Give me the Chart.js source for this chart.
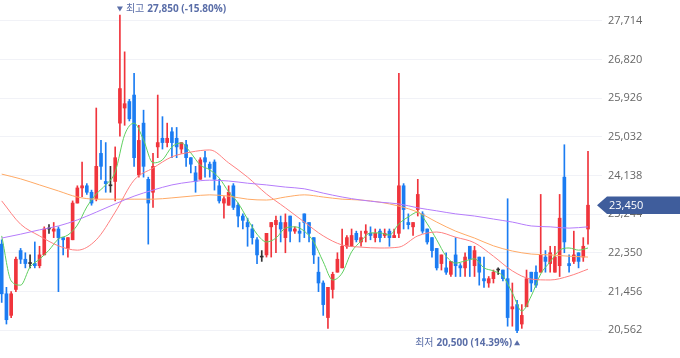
<!DOCTYPE html>
<html><head><meta charset="utf-8">
<script src="https://cdn.jsdelivr.net/npm/chart.js@4"></script>
<style>html,body{margin:0;padding:0;background:#fff}#wrap{width:680px;height:358px;position:relative}</style>
</head><body><div id="wrap"><canvas id="c" width="680" height="358"></canvas></div>
<script>
// ---- data ----
const opens  = [22550,21400,20900,21500,22400,22200,22100,22100,22050,22300,22900,22850,22900,22700,22450,22650,23500,23850,23900,23750,23600,24650,24000,23900,24000,25350,25700,25850,26000,24150,25350,24050,23750,24800,25000,24900,25150,25000,24750,24850,24550,24200,24050,24550,24400,24450,23900,23500,23450,23900,23450,23200,23050,22900,22650,22250,22300,22950,23000,23050,22700,23200,22850,22850,23250,23050,22700,21900,21650,20850,21500,21900,22000,22500,22500,22800,22600,22800,22800,22700,22850,22750,22850,22700,22800,23900,23050,22950,23350,23250,22900,22700,22450,22100,22000,21850,22300,22050,22000,22500,22050,22250,21750,21650,21750,21950,21950,21750,21050,21150,20700,21100,21900,21900,21900,22250,22100,21900,22050,24100,22100,22150,22350,22250,22900];
const highs  = [22650,21550,21450,22250,22450,22350,22300,22600,22500,22950,23000,23050,22950,22700,22700,23550,23900,24450,23950,23800,25700,24950,24900,24350,24800,27850,27000,25900,26500,25300,25650,24100,24650,26000,25500,25350,25250,25250,24900,24950,24550,24350,24550,24700,24450,24500,24050,23650,23900,23950,23500,23250,23150,23000,22700,22400,22800,23050,23200,23200,23250,23200,22950,23050,23250,23050,22700,22250,21700,21550,21900,22350,22900,22750,22900,22850,22850,23000,22950,22900,22900,22900,22900,22900,26500,23950,23250,23050,24050,23300,22900,22700,22450,22300,22350,22150,22700,22100,22350,22500,22500,22250,22250,21800,21950,22000,21950,23600,21650,21250,21150,21950,21900,22050,23700,22400,22500,22500,23700,24850,22300,22850,22350,22700,24700];
const lows   = [21200,20700,20850,21450,22100,22000,22000,22000,22000,22300,22800,22700,21450,22300,22250,22650,23500,23650,23700,23450,23550,24050,23750,23750,23550,25050,25300,25400,24350,24100,24100,22550,23400,24550,24750,24800,24550,24550,24650,24350,24200,23750,24050,24100,24100,23800,23500,23150,23450,23350,22950,22900,22500,22550,22100,22150,22250,22250,22350,22600,22350,22600,22800,22600,22700,22600,22100,21450,20900,20600,21300,21900,22000,22450,22500,22600,22500,22600,22650,22600,22600,22700,22500,22700,22700,22900,22900,22750,23200,22800,22550,22250,21950,21950,21850,21800,21800,21800,21800,21800,21800,21600,21550,21550,21650,21850,21700,20650,20650,20500,20600,21100,21450,21550,21900,21900,21900,21900,21800,22350,21900,22100,22000,22150,22550];
const closes = [21400,20800,21400,22200,22200,22100,22100,22050,22300,22900,22900,22900,22700,22650,22700,23500,23850,23900,23750,23500,24350,24350,23950,23900,24550,26150,25800,25450,24550,24950,24350,23500,24350,24900,24900,25000,24900,24800,24900,24550,24400,24000,24500,24450,24300,24050,23550,23600,23750,23400,23200,23100,22950,22700,22300,22250,22800,23050,23100,22900,23050,22850,22900,22800,23050,22800,22300,21650,21150,21550,21850,22200,22500,22700,22750,22650,22700,22850,22750,22800,22700,22800,22700,22750,23900,23350,23000,23050,23700,22850,22600,22400,22000,22300,21900,22150,22050,22000,22250,22200,22400,21900,21700,21750,21900,21950,21750,20850,21100,20550,20900,21750,21650,21600,22300,22150,22350,22250,23150,22600,22050,22300,22150,22500,23450];

// moving averages, read every 2nd (MA5) / 4th (others) trading day
const ma5Step = 2, maStep = 4;
const ma5   = [22740,21700,21600,22020,22200,22410,22670,22760,22990,23410,23710,23920,24220,25080,25350,24960,24430,24500,24800,24890,24660,24380,24270,24080,23760,23500,23130,22780,22600,22690,22920,22950,22850,22600,22140,21720,21880,22370,22620,22810,22810,22760,23020,23180,23290,23020,22650,22270,22110,22160,22210,22000,21930,21810,21420,21000,21350,21860,22140,22410,22460,22410,22460];
const ma20  = [23550,23010,22740,22510,22410,22650,23290,24030,24310,24570,24680,24730,24430,24100,23710,23390,23060,22740,22530,22480,22460,22480,22740,22830,22710,22580,22270,21930,21740,21720,21810,21970];
const ma60  = [24170,24060,23920,23780,23640,23590,23590,23590,23590,23620,23660,23690,23660,23590,23570,23640,23690,23640,23590,23570,23520,23430,23290,23060,22850,22690,22510,22390,22320,22300,22270,22250];
const ma120 = [22690,22780,22880,22970,23110,23290,23480,23660,23800,23920,23990,24030,24010,23960,23920,23870,23830,23730,23640,23570,23520,23480,23390,23320,23250,23200,23130,23060,22970,22950,22920,22950];

const yTicks = [20562,21456,22350,23244,24138,25032,25926,26820,27714];
const yMin = 19914, yMax = 28200;
const lastPrice = closes[closes.length-1];

// ---- styles ----
const UP = '#f0343c', DOWN = '#1b7cf2', DOJI = '#333333';
const candleColor = i => closes[i] > opens[i] ? UP : (closes[i] < opens[i] ? DOWN : DOJI);
const idx = opens.map((_, i) => i);

const wickData = idx.map(i => ({x: i, y: [lows[i], highs[i]]}));
const bodyData = idx.map(i => ({x: i, y: [opens[i], closes[i]]}));
const maLine = (arr, step) => arr.map((v, k) => ({x: Math.min(k*step, opens.length-1), y: v}));

const fmt = v => v.toLocaleString('en-US');

const annot = {
  id: 'annot',
  afterDraw(chart) {
    const {ctx, scales: {x, y}, chartArea} = chart;
    let hi = 0, lo = 0;
    highs.forEach((h, i) => { if (h > highs[hi]) hi = i; });
    lows.forEach((l, i) => { if (l < lows[lo]) lo = i; });
    const hp = highs[hi], lp = lows[lo];
    const col = '#5a6ea8';
    ctx.save();
    ctx.fillStyle = col;
    ctx.textBaseline = 'middle';
    // highest
    let px = x.getPixelForValue(hi), cy = y.getPixelForValue(hp) - 6;
    ctx.beginPath();
    ctx.moveTo(px - 3, cy - 2.5); ctx.lineTo(px + 3, cy - 2.5); ctx.lineTo(px, cy + 2.5); ctx.closePath(); ctx.fill();
    ctx.textAlign = 'left';
    ctx.font = '10px "Open Sans","Noto Sans CJK KR"';
    ctx.fillText('최고', px + 6, cy);
    let w = ctx.measureText('최고').width;
    ctx.font = 'bold 10px "Open Sans","Noto Sans CJK KR"';
    const hpct = ((lastPrice - hp) / hp * 100).toFixed(2);
    ctx.fillText(fmt(hp) + ' (' + hpct + '%)', px + 6 + w + 3, cy);
    // lowest
    px = x.getPixelForValue(lo); cy = y.getPixelForValue(lp) + 10;
    ctx.beginPath();
    ctx.moveTo(px - 3, cy + 2.5); ctx.lineTo(px + 3, cy + 2.5); ctx.lineTo(px, cy - 2.5); ctx.closePath(); ctx.fill();
    ctx.textAlign = 'right';
    const lpct = ((lastPrice - lp) / lp * 100).toFixed(2);
    const ltxt = fmt(lp) + ' (' + lpct + '%)';
    ctx.font = 'bold 10px "Open Sans","Noto Sans CJK KR"';
    ctx.fillText(ltxt, px - 5, cy);
    w = ctx.measureText(ltxt).width;
    ctx.font = '10px "Open Sans","Noto Sans CJK KR"';
    ctx.fillText('최저', px - 5 - w - 3, cy);
    // current price tag
    const ty = y.getPixelForValue(lastPrice), r = chartArea.right;
    ctx.fillStyle = '#3f5d9c';
    ctx.beginPath();
    ctx.moveTo(r - 5, ty); ctx.lineTo(r + 5, ty - 8.7); ctx.lineTo(680, ty - 8.7);
    ctx.lineTo(680, ty + 8.7); ctx.lineTo(r + 5, ty + 8.7); ctx.closePath(); ctx.fill();
    ctx.fillStyle = '#ffffff';
    ctx.textAlign = 'left';
    ctx.font = '11px "Open Sans"';
    ctx.fillText(fmt(lastPrice), r + 7, ty + 0.5);
    ctx.restore();
  }
};

new Chart(document.getElementById('c'), {
  type: 'bar',
  data: {
    datasets: [
      {type: 'line', data: maLine(ma120, maStep), borderColor: '#b57cfb', borderWidth: 1, pointRadius: 0, cubicInterpolationMode: 'monotone', order: 0},
      {type: 'line', data: maLine(ma60, maStep), borderColor: '#ffaa66', borderWidth: 1, pointRadius: 0, cubicInterpolationMode: 'monotone', order: 0},
      {type: 'line', data: maLine(ma20, maStep), borderColor: '#ff8080', borderWidth: 1, pointRadius: 0, cubicInterpolationMode: 'monotone', order: 0},
      {type: 'line', data: maLine(ma5, ma5Step), borderColor: '#5fcf5f', borderWidth: 1, pointRadius: 0, cubicInterpolationMode: 'monotone', order: 0},
      {data: wickData, backgroundColor: idx.map(candleColor), barThickness: 1, borderWidth: 0, grouped: false, order: 2},
      {data: bodyData, backgroundColor: idx.map(candleColor), barThickness: 3, borderWidth: 0, grouped: false, minBarLength: 1, order: 1}
    ]
  },
  options: {
    responsive: false, animation: false, devicePixelRatio: 1,
    layout: {padding: 0},
    plugins: {legend: {display: false}, tooltip: {enabled: false}},
    scales: {
      x: {type: 'linear', min: -0.36, max: 126.96, offset: false, grid: {offset: false}, display: false},
      y: {
        position: 'right', min: yMin, max: yMax,
        afterBuildTicks: s => { s.ticks = yTicks.map(v => ({value: v})); },
        afterFit: s => { s.width = 78; s.paddingTop = 0; s.paddingBottom = 0; },
        grid: {color: '#f1f2f7', drawTicks: false},
        border: {display: false},
        ticks: {padding: 6, color: '#666666', font: {family: 'Open Sans', size: 11}, callback: v => fmt(v)}
      }
    }
  },
  plugins: [annot]
});
</script>
</body></html>
